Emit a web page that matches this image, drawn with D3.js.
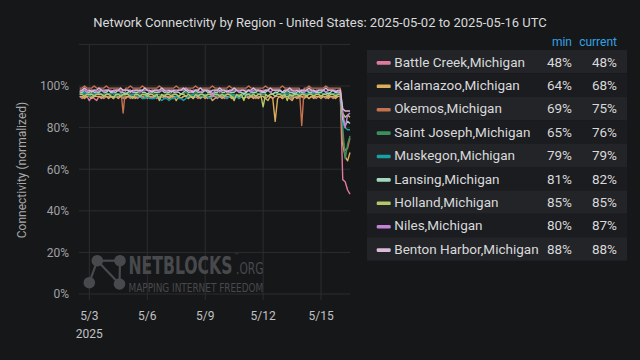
<!DOCTYPE html>
<html><head><meta charset="utf-8">
<script src="https://cdn.jsdelivr.net/npm/d3@7"></script>
<style>
html,body{margin:0;padding:0;background:#161719;}
svg{display:block;font-family:Roboto,"Noto Sans",sans-serif;}
</style></head>
<body><svg id="chart" width="640" height="360"></svg>
<script>
const title = "Network Connectivity by Region - United States: 2025-05-02 to 2025-05-16 UTC";
const regions = ["Battle Creek,Michigan","Kalamazoo,Michigan","Okemos,Michigan","Saint Joseph,Michigan","Muskegon,Michigan","Lansing,Michigan","Holland,Michigan","Niles,Michigan","Benton Harbor,Michigan"];
const colors = ["#df7a9f","#dcae5c","#c4724f","#3b8f5c","#19a0a2","#a4d7bb","#b3c966","#c581d6","#dcbbd9"];
const yTicks = [0,20,40,60,80,100];
const xTickDates = ["2025-05-03","2025-05-06","2025-05-09","2025-05-12","2025-05-15"];
const startTime = "2025-05-02T12:00:00Z";
const stepHours = 3;

// values every 3 hours, 2025-05-02 12:00 UTC .. 2025-05-16 12:00 UTC (113 points)
const battleCreek = [95,94,95,95,93,95,94,93,95,95,94,95, 95,95,94,95,95,95,94,95,95,94,95,95, 94,95,95,95,94,95,95,95,94,95,95,94, 95,95,94,95,95,95,94,95,95,94,95,95, 95,94,95,95,95,94,95,95,95,94,95,95, 94,95,95,95,94,95,95,95,94,95,95,95, 95,94,95,95,95,94,95,95,94,95,95,95, 94,95,95,95,94,95,95,94,95,95,95,94, 95,95,94,95,95,95,94,95,95,94,95,95, 95, 55,54,50,48];
const kalamazoo = [95,95,94,95,95,94,95,95,95,94,95,95, 94,95,95,95,94,95,95,94,95,95,95,94, 95,95,94,95,95,95,94,95,95,94,95,95, 95,94,95,95,93,95,94,95,95,94,95,94, 95,95,94,95,94,95,95,93,94,95,95,94, 95,94,95,94,95,95,94,95,94,95,94,95, 94,95,94,95,95,94,93,95,94,83,94,95, 94,95,95,94,93,95,94,95,95,94,95,94, 95,94,95,95,94,95,95,94,95,95,94,95, 95, 72,66,64,68];
const okemos = [99,99,100,99,99,99,100,99,99,99,99,100, 99,99,99,99,99,99,87,99,99,100,99,99, 99,99,100,99,99,99,99,99,99,100,99,99, 99,99,99,99,100,99,99,99,99,99,99,99, 100,99,99,99,99,99,99,100,99,99,99,99, 99,99,100,99,99,99,99,99,99,99,100,99, 99,99,99,99,99,100,99,99,99,99,99,99, 100,99,99,99,99,99,99,99,81,99,99,100, 99,99,99,99,99,99,100,99,99,99,99,99, 99, 74,69,70,75];
const saintJoseph = [96,97,96,96,97,96,96,96,97,96,96,97, 96,96,97,96,96,96,95,96,97,96,96,96, 97,96,96,95,96,96,97,96,96,96,95,96, 96,97,96,96,96,95,96,96,97,96,96,96, 97,96,96,96,95,96,96,97,96,96,96,96, 96,96,97,96,96,95,96,96,97,96,96,96, 96,97,96,96,96,96,95,96,96,97,96,96, 96,96,97,96,96,95,96,96,96,97,96,96, 97,96,96,96,95,96,96,97,96,96,96,96, 96, 80,65,72,76];
const muskegon = [96,96,97,96,95,96,96,97,96,96,95,96, 96,97,96,95,96,96,96,97,96,95,96,96, 95,95,94,94,95,94,94,94,95,94,93,94, 94,93,94,94,95,94,94,93,94,95,95,96, 95,96,95,95,96,95,94,95,96,95,95,96, 95,94,95,96,95,95,94,95,96,95,96,97, 96,95,96,96,97,96,95,96,96,97,96,96, 97,96,96,95,96,97,96,96,97,96,96,97, 96,97,96,96,97,96,96,97,96,96,97,96, 96, 82,80,79,79];
const lansing = [97,97,98,97,97,98,97,97,97,98,97,97, 98,97,97,97,98,97,97,96,97,98,97,97, 97,98,97,97,96,97,98,97,97,97,98,97, 97,97,98,97,97,97,96,97,98,97,97,97, 98,97,97,97,98,97,97,96,97,97,98,97, 97,98,97,97,97,98,97,97,96,97,98,97, 97,97,98,97,97,97,98,97,96,97,97,98, 97,97,98,97,97,96,97,98,97,97,98,97, 97,98,97,97,97,98,97,96,97,98,97,97, 97, 84,81,83,82];
const holland = [96,96,95,96,96,96,95,96,96,96,95,96, 96,95,94,96,96,95,96,96,96,95,94,96, 96,95,96,96,95,96,96,95,96,93,96,95, 96,96,95,96,96,95,96,96,95,96,95,94, 96,95,96,96,95,96,96,95,96,96,95,96, 95,96,96,95,93,96,95,96,93,96,96,95, 96,95,96,96,90,96,95,96,96,95,96,96, 95,96,93,96,95,96,96,95,96,96,95,96, 96,95,96,96,95,96,96,95,96,96,95,96, 96, 87,85,86,85];
const niles = [97,98,98,97,98,98,98,97,98,98,97,98, 98,98,97,98,98,97,98,98,98,98,97,98, 98,97,98,98,98,97,98,98,98,97,98,98, 97,98,98,98,97,98,98,98,99,98,97,98, 98,98,97,98,98,98,98,95,98,98,97,98, 98,98,97,98,98,98,97,98,98,98,98,97, 98,98,98,97,98,98,98,97,98,98,98,98, 97,98,98,98,98,97,98,98,98,97,98,98, 98,97,98,98,98,98,97,98,98,98,98,97, 98, 87,80,86,87];
const bentonHarbor = [98,98,99,98,98,97,98,98,99,98,98,98, 98,97,98,98,98,99,98,98,98,97,98,98, 98,98,98,99,98,98,97,98,98,98,99,98, 98,98,97,98,98,98,98,99,98,98,98,97, 98,98,99,98,98,98,97,98,98,98,99,98, 98,97,98,98,99,98,98,98,98,97,98,98, 99,98,98,98,97,98,98,99,98,98,98,98, 97,98,98,99,98,98,98,97,98,98,98,99, 98,98,97,98,98,98,99,98,98,98,97,98, 98, 89,88,88,88];

const seriesValues = [battleCreek,kalamazoo,okemos,saintJoseph,muskegon,lansing,holland,niles,bentonHarbor];

const svg = d3.select("#chart");
const t0 = new Date(startTime);
const times = d3.range(battleCreek.length).map(i => d3.utcHour.offset(t0, i*stepHours));

const x = d3.scaleUtc().domain([t0, times[times.length-1]]).range([79.7, 350]);
const y = d3.scaleLinear().domain([0, 120]).range([294, 44.4]);

// title
svg.append("text").attr("x", 320).attr("y", 27).attr("text-anchor","middle")
  .attr("fill","#d8d9da").attr("font-size", 13).text(title);

// grid
const g = svg.append("g");
g.selectAll("line.h").data([0,20,40,60,80,100,120]).join("line")
  .attr("x1", 79).attr("x2", 350).attr("y1", d=>y(d)).attr("y2", d=>y(d))
  .attr("stroke","#2c2d30").attr("stroke-width",1);
const xTicks = xTickDates.map(s => new Date(s+"T00:00:00Z"));
g.selectAll("line.v").data(xTicks).join("line")
  .attr("x1", d=>x(d)).attr("x2", d=>x(d)).attr("y1", y(120)).attr("y2", 300)
  .attr("stroke","#2c2d30").attr("stroke-width",1);

// y axis labels
svg.append("g").selectAll("text").data(yTicks).join("text")
  .attr("x", 69).attr("y", d=>y(d)+4.3).attr("text-anchor","end")
  .attr("fill","#a0a1a4").attr("font-size",12).text(d=>d+"%");
svg.append("text").attr("transform","translate(26,170) rotate(-90)")
  .attr("text-anchor","middle").attr("fill","#a8a9ac").attr("font-size",12)
  .text("Connectivity (normalized)");

// x axis labels
const fmt = d3.utcFormat("%-m/%-d");
svg.append("g").selectAll("text").data(xTicks).join("text")
  .attr("x", d=>x(d)).attr("y", 320).attr("text-anchor","middle")
  .attr("fill","#c0c1c3").attr("font-size",12).text(d=>fmt(d));
svg.append("text").attr("x", x(xTicks[0])).attr("y", 338).attr("text-anchor","middle")
  .attr("fill","#c0c1c3").attr("font-size",12).text(d3.utcFormat("%Y")(xTicks[0]));

// watermark
const wm = svg.append("g").attr("fill","#48494c").attr("stroke","#48494c");
const nodes = [[97.3,260.7],[120,260.7],[89.3,282.7],[119.5,284]];
[[0,1],[0,2],[0,3],[1,3]].forEach(([a,b]) => {
  wm.append("line").attr("x1",nodes[a][0]).attr("y1",nodes[a][1]).attr("x2",nodes[b][0]).attr("y2",nodes[b][1]).attr("stroke-width",2.2);
});
nodes.forEach(n => wm.append("circle").attr("cx",n[0]).attr("cy",n[1]).attr("r",5.8).attr("stroke","none"));
const wmFont = "'DejaVu Sans Condensed','Liberation Sans Narrow',sans-serif";
function fitText(str, px, py, width, size, bold) {
  const t = wm.append("text").attr("x",0).attr("y",0).attr("stroke","none")
    .attr("font-family",wmFont).attr("font-size",size).attr("font-weight", bold ? "bold" : "normal").text(str);
  const w = t.node().getComputedTextLength();
  t.attr("transform", `translate(${px},${py}) scale(${width/w},1)`);
  return t;
}
fitText("NETBLOCKS", 128.5, 274, 104, 25, true);
wm.append("text").attr("x",234.3).attr("y",257).attr("stroke","none").attr("font-family",wmFont)
  .attr("font-size",5.5).text("™");
fitText(".ORG", 236, 274, 27.5, 15, false);
fitText("MAPPING INTERNET FREEDOM", 128.5, 292, 135, 13, false);

// lines
const line = d3.line().x((d,i)=>x(times[i])).y(d=>y(d));
svg.append("g").selectAll("path").data(seriesValues).join("path")
  .attr("d", d=>line(d)).attr("fill","none")
  .attr("stroke",(d,i)=>colors[i]).attr("stroke-width",1.4).attr("stroke-linejoin","round");

// legend
const rowH = 23.4, row0 = 50, lx0 = 367, lx1 = 627;
svg.append("text").attr("x",572).attr("y",46).attr("text-anchor","end").attr("fill","#33a2e5").attr("font-size",12).text("min");
svg.append("text").attr("x",617).attr("y",46).attr("text-anchor","end").attr("fill","#33a2e5").attr("font-size",12).text("current");
const lg = svg.append("g").selectAll("g").data(regions).join("g")
  .attr("transform",(d,i)=>`translate(0,${row0 + i*rowH})`);
lg.append("rect").attr("x",lx0).attr("y",0).attr("width",lx1-lx0).attr("height",rowH)
  .attr("fill",(d,i)=> i%2===0 ? "#232427" : "#1b1c1f");
lg.append("rect").attr("x",376.7).attr("y",rowH/2-0.6).attr("width",14).attr("height",3.6).attr("rx",1.2)
  .attr("fill",(d,i)=>colors[i]);
lg.append("text").attr("x",394.3).attr("y",rowH/2+5).attr("fill","#d8d9da").attr("font-size",13.5).text(d=>d);
lg.append("text").attr("x",572).attr("y",rowH/2+5).attr("text-anchor","end").attr("fill","#d8d9da").attr("font-size",13.5)
  .text((d,i)=>Math.round(d3.min(seriesValues[i]))+"%");
lg.append("text").attr("x",617).attr("y",rowH/2+5).attr("text-anchor","end").attr("fill","#d8d9da").attr("font-size",13.5)
  .text((d,i)=>Math.round(seriesValues[i][seriesValues[i].length-1])+"%");
</script></body></html>
